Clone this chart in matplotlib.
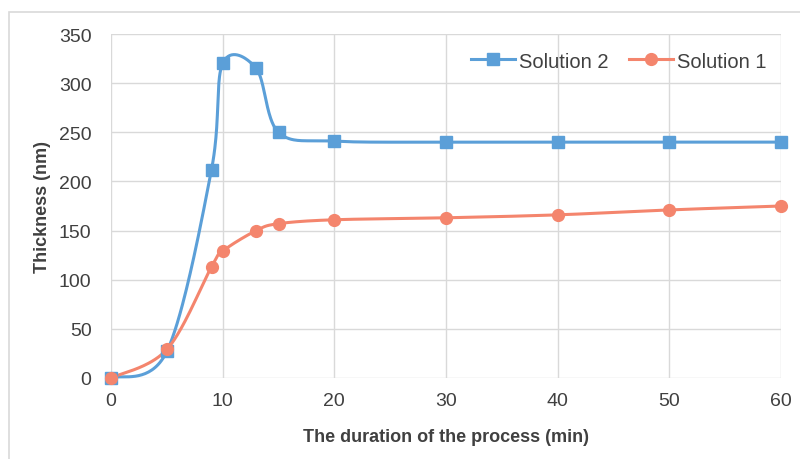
import numpy as np
import matplotlib
matplotlib.use("Agg")
import matplotlib.pyplot as plt
from matplotlib.patches import Rectangle

plt.rcParams['font.family'] = ['Liberation Sans', 'DejaVu Sans']

x_minutes = [0, 5, 9, 10, 13, 15, 20, 30, 40, 50, 60]
solution2 = [0, 27, 212, 320, 315, 250, 241, 240, 240, 240, 240]
solution1 = [0, 29, 113, 129, 150, 157, 161, 163, 166, 171, 175]

x_ticks = [0, 10, 20, 30, 40, 50, 60]
y_ticks = [0, 50, 100, 150, 200, 250, 300, 350]

BLUE = '#5B9FD8'
ORANGE = '#F4856D'
GRID = '#D9D9D9'
TEXT = '#404040'


def smooth(xs, ys, n=40):
    P = np.column_stack([xs, ys]).astype(float)
    out = []
    m = len(P)
    for i in range(m - 1):
        p0 = P[i - 1] if i > 0 else P[i]
        p1 = P[i]
        p2 = P[i + 1]
        p3 = P[i + 2] if i + 2 < m else P[i + 1]
        c1 = p1 + (p2 - p0) / 6.0
        c2 = p2 - (p3 - p1) / 6.0
        t = np.linspace(0, 1, n)[:, None]
        seg = ((1 - t) ** 3) * p1 + 3 * ((1 - t) ** 2) * t * c1 + 3 * (1 - t) * t ** 2 * c2 + t ** 3 * p2
        if i > 0:
            seg = seg[1:]
        out.append(seg)
    arr = np.vstack(out)
    return arr[:, 0], arr[:, 1]


fig = plt.figure(figsize=(8, 4.6), dpi=100)
fig.patches.append(Rectangle((9 / 800, -0.1), 1.2, 1 - 13 / 460 + 0.1, transform=fig.transFigure,
                             fill=False, edgecolor=GRID, linewidth=1.2, zorder=0))
ax = fig.add_axes([111 / 800, 1 - 379 / 460, (781 - 111) / 800, (379 - 35) / 460])

for ys, col, mk, lab in [(solution2, BLUE, 's', 'Solution 2'), (solution1, ORANGE, 'o', 'Solution 1')]:
    sx, sy = smooth(x_minutes, ys)
    ax.plot(sx, sy, color=col, linewidth=2.2, zorder=3, clip_on=False)
    ax.plot(x_minutes, ys, linestyle='none', marker=mk, markersize=8.5, color=col, zorder=4, clip_on=False)

h2, = ax.plot([], [], color=BLUE, linewidth=2.2, marker='s', markersize=8.5, label='Solution 2')
h1, = ax.plot([], [], color=ORANGE, linewidth=2.2, marker='o', markersize=8.5, label='Solution 1')

ax.set_xlim(0, 60)
ax.set_ylim(0, 350)
ax.set_xticks(x_ticks)
ax.set_yticks(y_ticks)
ax.grid(True, color=GRID, linewidth=1.0)
ax.set_axisbelow(True)
for s in ax.spines.values():
    s.set_visible(False)
ax.tick_params(length=0, labelsize=14, colors=TEXT, pad=10)
ax.tick_params(axis='y', pad=14)
for lbl in ax.get_xticklabels() + ax.get_yticklabels():
    lbl.set_color(TEXT)

ax.set_xlabel('The duration of the process (min)', fontsize=13, fontweight='bold', color=TEXT, labelpad=14)
ax.set_ylabel('Thickness (nm)', fontsize=13, fontweight='bold', color=TEXT, labelpad=6)

leg = ax.legend(handles=[h2, h1], loc='upper right', ncol=2, frameon=False, fontsize=14.5,
                bbox_to_anchor=(1.0, 0.99), handlelength=2.2, handletextpad=0.2, columnspacing=1.0,
                borderaxespad=0.3)
for t in leg.get_texts():
    t.set_color(TEXT)

fig.savefig('out.png', dpi=100)
